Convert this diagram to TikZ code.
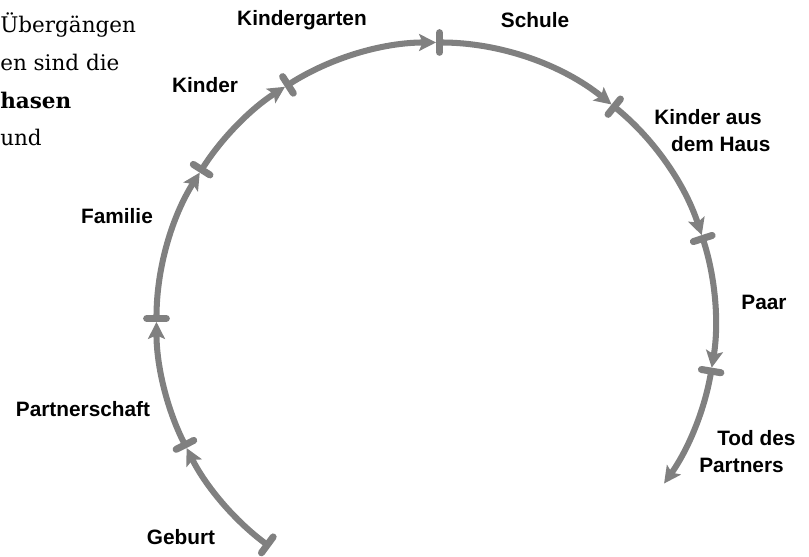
\documentclass[tikz,border=0pt]{standalone}
\usepackage{fontspec}
\setmainfont{DejaVu Serif}
\setsansfont{Liberation Sans}
\usetikzlibrary{arrows.meta}
\definecolor{arcgray}{RGB}{128,128,128}
\begin{document}
\begin{tikzpicture}[
  x=0.025cm, y=0.025cm,
  phase_arc/.style={draw=arcgray, line width=4.3pt, {Bar[width=14pt, line width=5pt, round]}-{Stealth[length=12pt, width=12pt, inset=2.5pt]}},
  every node/.style={font=\sffamily\bfseries\fontsize{14.8}{19.2}\selectfont, inner sep=0pt},
  body_text/.style={font=\rmfamily\fontsize{15.3}{27}\selectfont, align=left, anchor=north west} % clipped body text
]
\useasboundingbox (-436,-235) rectangle (373,322);

% Points on the circle
\coordinate (geburt) at (233.6:279.5);
\coordinate (partnerschaft) at (206.8:279.5);
\coordinate (familie) at (180:279.5);
\coordinate (kinder) at (147.7:279.5);
\coordinate (kindergarten) at (122.7:279.5);
\coordinate (schule) at (90:279.5);
\coordinate (auszug) at (51.1:279.5);
\coordinate (paar) at (18.1:279.5);
\coordinate (tod) at (-9.4:279.5);

% Phases
\draw[phase_arc] (geburt) arc[start angle=233.6, end angle=206.8, radius=6.9875cm];
\draw[phase_arc] (partnerschaft) arc[start angle=206.8, end angle=180, radius=6.9875cm];
\draw[phase_arc] (familie) arc[start angle=180, end angle=147.7, radius=6.9875cm];
\draw[phase_arc] (kinder) arc[start angle=147.7, end angle=122.7, radius=6.9875cm];
\draw[phase_arc] (kindergarten) arc[start angle=122.7, end angle=90, radius=6.9875cm];
\draw[phase_arc] (schule) arc[start angle=90, end angle=51.1, radius=6.9875cm];
\draw[phase_arc] (auszug) arc[start angle=51.1, end angle=18.1, radius=6.9875cm];
\draw[phase_arc] (paar) arc[start angle=18.1, end angle=-9.4, radius=6.9875cm];
\draw[phase_arc] (tod) arc[start angle=-9.4, end angle=-35.3, radius=6.9875cm];

% Labels
\node (geburt_lbl) at (-255,-215) {Geburt};
\node (partnerschaft_lbl) at (-353,-87) {Partnerschaft};
\node (familie_lbl) at (-319,106) {Familie};
\node (kinder_lbl) at (-231,237) {Kinder};
\node (kindergarten_lbl) at (-134,302) {Kindergarten};
\node (schule_lbl) at (99,302) {Schule};
\node[anchor=west, align=left] (auszug_lbl) at (218,191) {Kinder aus\\\hspace*{0.42cm}dem Haus};
\node (paar_lbl) at (328,20) {Paar};
\node[anchor=west, align=left] (tod_lbl) at (263,-130) {\hspace*{0.45cm}Tod des\\Partners};

\node[body_text] (text_lbl) at (-436,310) {Übergängen\\en sind die\\\textbf{hasen}\\und};
\end{tikzpicture}
\end{document}
